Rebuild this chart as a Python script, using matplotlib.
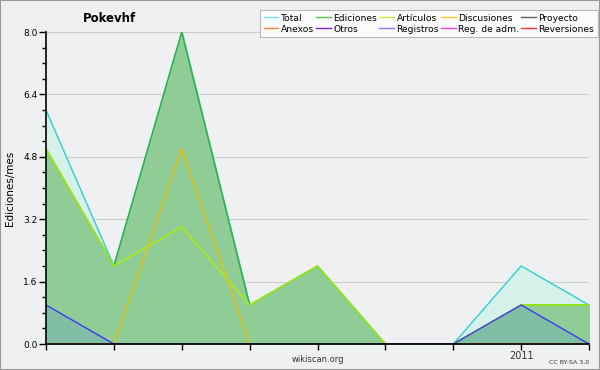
import matplotlib
matplotlib.use("Agg")
import matplotlib.pyplot as plt
from matplotlib.lines import Line2D
from matplotlib.patches import Rectangle
import numpy as np

months = ["2010-05", "2010-06", "2010-07", "2010-08", "2010-09", "2010-10", "2010-11", "2011-01", "2011-02"]
tick_labels = ["", "", "", "", "", "", "", "2011", ""]
total = [6, 2, 8, 1, 2, 0, 0, 2, 1]
ediciones = [5, 2, 8, 1, 2, 0, 0, 1, 1]
articulos = [5, 2, 3, 1, 2, 0, 0, 1, 1]
discusiones = [0, 0, 5, 0, 0, 0, 0, 0, 0]
registros = [1, 0, 0, 0, 0, 0, 0, 1, 0]

legend_names = ["Total", "Ediciones", "Artículos", "Discusiones", "Proyecto",
                "Anexos", "Otros", "Registros", "Reg. de adm.", "Reversiones"]
legend_colors = ["#80e0e0", "#60c060", "#c0f040", "#ffc820", "#606060",
                 "#ff8040", "#8020e0", "#8080ff", "#e040e0", "#ff3030"]

bg = "#eff0f1"
fig = plt.figure(figsize=(6, 3.7), dpi=100, facecolor=bg)
ax = fig.add_axes([46/600, 1-344/370, 543/600, 312/370])
ax.set_facecolor(bg)
x = np.arange(len(months))

ax.fill_between(x, total, color="#d6f1ea", zorder=1)
ax.fill_between(x, ediciones, color="#90cc96", zorder=2)
ax.fill_between(x, registros, color="#80bea6", zorder=3)
ax.plot(x, total, color="#30d0d0", lw=1, zorder=4)
ax.plot(x, ediciones, color="#30b040", lw=1, zorder=5)
ax.plot(x, articulos, color="#b0f000", lw=1, zorder=6)
ax.plot(x, discusiones, color="#f0c000", lw=1, zorder=7)
ax.plot(x, registros, color="#3c3cf0", lw=1, zorder=8)

ax.set_xlim(0, len(months)-1)
ax.set_ylim(0, 8)
ax.set_yticks([0, 1.6, 3.2, 4.8, 6.4, 8.0])
ax.set_yticklabels(["0.0", "1.6", "3.2", "4.8", "6.4", "8.0"])
ax.set_yticks(np.arange(0, 8.01, 0.4), minor=True)
ax.set_xticks(x)
ax.set_xticklabels(tick_labels)
ax.tick_params(axis="y", which="major", length=5, labelsize=6.5, pad=1, width=1)
ax.tick_params(axis="y", which="minor", length=3, width=1)
ax.tick_params(axis="x", length=4, labelsize=7, pad=1, width=1, colors="black", labelcolor="#333333")
ax.grid(axis="y", which="major", color="#cccccc", lw=0.8, zorder=0)
ax.set_axisbelow(True)
for s in ["top", "right"]:
    ax.spines[s].set_visible(False)
ax.spines["left"].set_linewidth(1.2)
ax.spines["bottom"].set_linewidth(1.2)
ax.spines["left"].set_zorder(10)
ax.spines["bottom"].set_zorder(10)
ax.set_ylabel("Ediciones/mes", fontsize=7.5, labelpad=6)

fig.text(110/600, 1-18/370, "Pokevhf", fontsize=8.5, fontweight="bold", ha="center", va="center")
fig.text(318/600, 1-360/370, "wikiscan.org", fontsize=6, ha="center", va="center", color="#333333")
fig.text(589/600, 1-362/370, "CC BY-SA 3.0", fontsize=4.5, ha="right", va="center", color="#333333")

order = [0, 5, 1, 6, 2, 7, 3, 8, 4, 9]
handles = [Line2D([0], [0], color=legend_colors[i], lw=1) for i in order]
labels = [legend_names[i] for i in order]
leg = fig.legend(handles, labels, ncol=5, loc="upper right", bbox_to_anchor=(598/600, 1-10/370),
                 fontsize=6.6, frameon=True, fancybox=False, edgecolor="#aaaaaa",
                 handlelength=1.6, handletextpad=0.3, columnspacing=0.2, labelspacing=0.22,
                 borderpad=0.4, borderaxespad=0)
leg.get_frame().set_linewidth(0.8)

fig.patches.append(Rectangle((0, 0), 1, 1, transform=fig.transFigure, fill=False,
                             edgecolor="#999999", lw=1.5))
fig.savefig("out.png", dpi=100, facecolor=bg)
